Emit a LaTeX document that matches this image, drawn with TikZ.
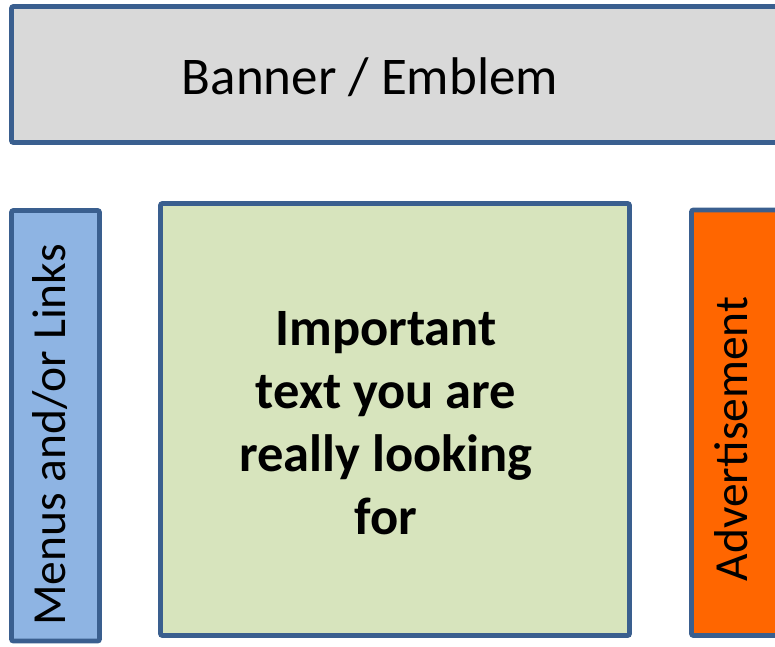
\documentclass[tikz,border=0pt]{standalone}
\usepackage{fontspec}
\setmainfont{Carlito}
\definecolor{bord}{HTML}{3A5F8F}
\definecolor{gfill}{HTML}{D9D9D9}
\definecolor{bfill}{HTML}{8EB4E3}
\definecolor{grfill}{HTML}{D7E4BD}
\definecolor{ofill}{HTML}{FF6600}
\tikzset{panel/.style={draw=bord,line width=4.8pt,rounded corners=2pt}}
\begin{document}
\begin{tikzpicture}[x=1pt,y=-1pt]
\useasboundingbox (0,0) rectangle (775,646);
\begin{scope}
\clip (0,0) rectangle (775,646);
\draw[panel,fill=gfill] (11.5,6.5) rectangle (790,142.5);
\draw[panel,fill=bfill] (11.5,210.5) rectangle (99.5,641);
\draw[panel,fill=grfill] (160.5,203.5) rectangle (629.5,635.5);
\draw[panel,fill=ofill] (691.5,210) rectangle (790,635.5);
\end{scope}
\node[font=\fontsize{53}{60}\selectfont] (banner) at (370,77) {Banner / Emblem};
\node[rotate=90,font=\fontsize{47.5}{55}\selectfont] (menus) at (50,435) {Menus and/or Links};
\node[align=center,font=\fontsize{52.5}{63}\selectfont\bfseries] (main) at (386,423) {Important\\text you are\\really looking\\for};
\node[rotate=90,font=\fontsize{47.5}{55}\selectfont] (ad) at (731,439) {Advertisement};
\end{tikzpicture}
\end{document}
